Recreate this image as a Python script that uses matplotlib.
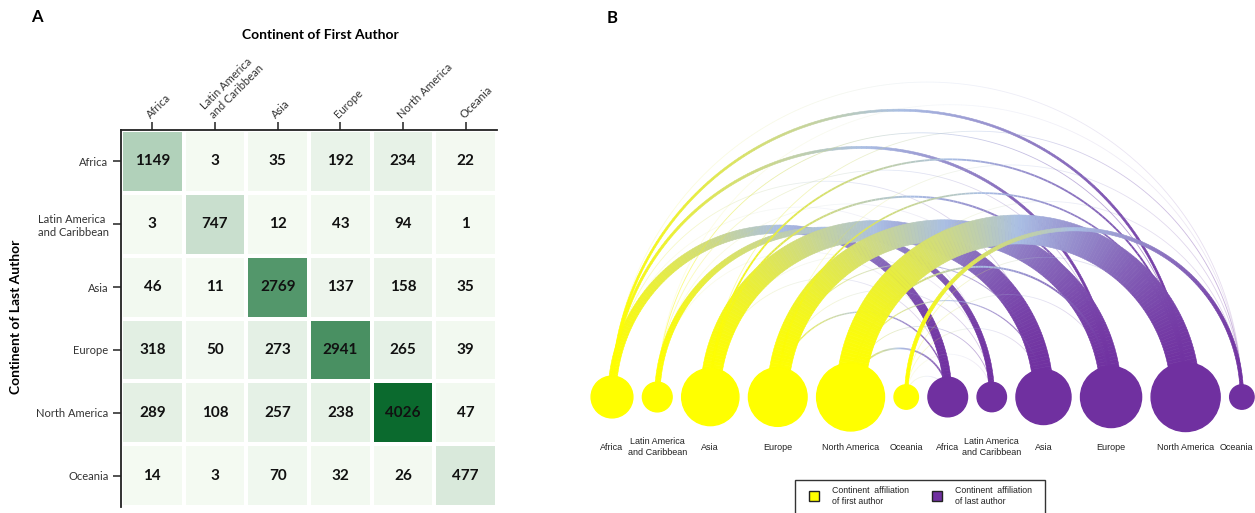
import numpy as np
import matplotlib.pyplot as plt
from matplotlib.colors import LinearSegmentedColormap
from matplotlib.collections import PolyCollection, LineCollection
from matplotlib.patches import Circle, Rectangle

continents = ["Africa", "Latin America\nand Caribbean", "Asia", "Europe",
              "North America", "Oceania"]

# rows: continent of last author, columns: continent of first author
africa_last = [1149, 3, 35, 192, 234, 22]
latam_last = [3, 747, 12, 43, 94, 1]
asia_last = [46, 11, 2769, 137, 158, 35]
europe_last = [318, 50, 273, 2941, 265, 39]
namerica_last = [289, 108, 257, 238, 4026, 47]
oceania_last = [14, 3, 70, 32, 26, 477]

counts = np.array([africa_last, latam_last, asia_last, europe_last,
                   namerica_last, oceania_last])

W, H = 1255, 513
fig = plt.figure(figsize=(W / 100, H / 100), dpi=100)
heat_font = "Lato"
arc_font = ["Liberation Sans", "DejaVu Sans"]

# ---------------- A: co-authorship matrix ----------------
ax = fig.add_axes([121 / W, 1 - 507 / H, 376 / W, 377 / H])
greens = LinearSegmentedColormap.from_list("grn", ["#f4faf2", "#0b6a2e"])
ax.pcolormesh(counts, cmap=greens, vmin=0, vmax=counts.max(),
              edgecolors="white", linewidth=1.6)
ax.set_xlim(0, 6)
ax.set_ylim(6, 0)
for r in range(6):
    for c in range(6):
        ax.text(c + 0.5, r + 0.5, str(counts[r, c]), ha="center", va="center",
                fontsize=11, fontweight="bold", family=heat_font, color="#111111")

ax.xaxis.tick_top()
ax.set_xticks(np.arange(6) + 0.5)
ax.set_xticklabels(continents, rotation=45, ha="left", va="bottom",
                   rotation_mode="anchor", fontsize=8, family=heat_font,
                   color="#333333")
ax.set_yticks(np.arange(6) + 0.5)
ax.set_yticklabels(continents, fontsize=8, family=heat_font, color="#333333",
                   multialignment="left")
ax.tick_params(axis="both", length=6, width=1.1, color="#222222", pad=3)
ax.tick_params(axis="x", pad=1)
for side in ["right", "bottom"]:
    ax.spines[side].set_visible(False)
for side in ["top", "left"]:
    ax.spines[side].set_linewidth(1.3)
    ax.spines[side].set_color("#222222")

fig.text(320 / W, 1 - 35 / H, "Continent of First Author", ha="center", va="center",
         fontsize=10, fontweight="bold", family=heat_font)
fig.text(16 / W, 1 - 317 / H, "Continent of Last Author", ha="center", va="center",
         rotation=90, fontsize=10, fontweight="bold", family=heat_font)
fig.text(37 / W, 1 - 17 / H, "A", ha="center", va="center", fontsize=12,
         fontweight="bold", family=heat_font)

# ---------------- B: arc diagram ----------------
axb = fig.add_axes([585 / W, 0, (W - 585) / W, 1])
axb.set_xlim(585, W)
axb.set_ylim(0, H)
axb.axis("off")

first_tot = counts.sum(axis=0)
last_tot = counts.sum(axis=1)
sizes = np.concatenate([first_tot, last_tot])
radii = 0.49 * np.sqrt(sizes)
gap = 9.5
base_y = 116
xs = [612.0]
for k in range(1, len(sizes)):
    xs.append(xs[-1] + radii[k - 1] + radii[k] + gap)
xs = np.array(xs)

yellow, purple = "#ffff00", "#7030a0"
grad = LinearSegmentedColormap.from_list("arc", [yellow, "#aabfe4", purple])

n_seg = 160
for i in range(6):
    for j in range(6):
        n = counts[j, i]
        x0, x1 = xs[i], xs[6 + j]
        xc, R = (x0 + x1) / 2, (x1 - x0) / 2
        w = max(n * 0.0072, 0.8)
        alpha = min(1.0, 0.12 + n / 250)
        th = np.linspace(np.pi, 0, n_seg + 1)
        th_mid = (th[:-1] + th[1:]) / 2
        t = ((xc + R * np.cos(th_mid)) - x0) / (x1 - x0)
        cols = grad(t)
        cols[:, 3] = alpha
        if w >= 2:
            ro, ri = R + w / 2, R - w / 2
            polys = []
            for a, b in zip(th[:-1], th[1:]):
                polys.append([(xc + ro * np.cos(a), base_y + ro * np.sin(a)),
                              (xc + ro * np.cos(b), base_y + ro * np.sin(b)),
                              (xc + ri * np.cos(b), base_y + ri * np.sin(b)),
                              (xc + ri * np.cos(a), base_y + ri * np.sin(a))])
            axb.add_collection(PolyCollection(polys, facecolors=cols, edgecolors=cols,
                                              linewidths=0.4, zorder=2))
        else:
            pts = np.column_stack([xc + R * np.cos(th), base_y + R * np.sin(th)])
            segs = np.stack([pts[:-1], pts[1:]], axis=1)
            axb.add_collection(LineCollection(segs, colors=cols, linewidths=w * 0.72,
                                              capstyle="butt", zorder=2))

for k in range(12):
    axb.add_patch(Circle((xs[k], base_y), radii[k], color=yellow if k < 6 else purple,
                         zorder=3))
    # last label sits against the right edge
    lx, ha = (xs[k], "center") if k < 11 else (W - 2, "right")
    axb.text(lx, base_y - 50, continents[k % 6], ha=ha, va="center",
             fontsize=6.5, family=arc_font, color="#222222", zorder=4)

# legend box
axb.add_patch(Rectangle((795, -10), 250, 43, facecolor="white", edgecolor="#333333",
                        linewidth=1, zorder=4))
for sx, tx, col, lab in [(814, 832, yellow, "Continent  affiliation\nof first author"),
                         (937, 955, purple, "Continent  affiliation\nof last author")]:
    axb.add_patch(Rectangle((sx - 5, 12), 10, 10, facecolor=col, edgecolor="#222222",
                            linewidth=1, zorder=5))
    axb.text(tx, 17, lab, ha="left", va="center", fontsize=6.3, family=arc_font,
             color="#222222", zorder=5)

fig.text(612 / W, 1 - 18 / H, "B", ha="center", va="center", fontsize=12,
         fontweight="bold", family=heat_font)

fig.savefig("out.png", dpi=100)
